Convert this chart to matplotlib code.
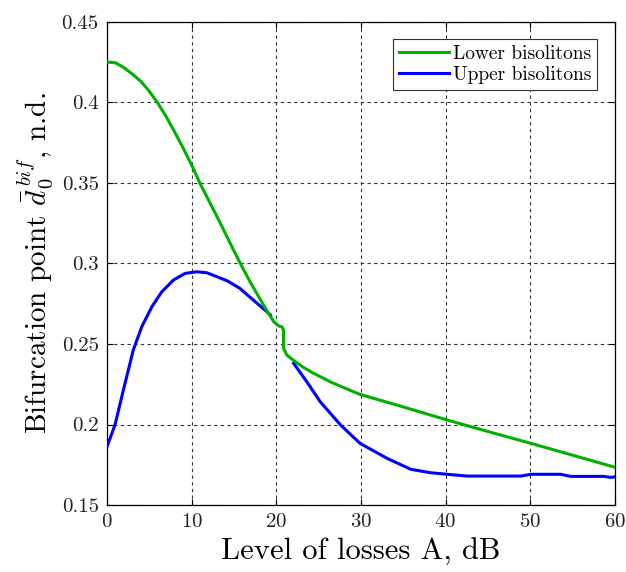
import numpy as np
import matplotlib
matplotlib.use("Agg")
import matplotlib.pyplot as plt

plt.rcParams["font.family"] = "serif"
plt.rcParams["font.serif"] = ["cmr10"]
plt.rcParams["mathtext.fontset"] = "cm"
plt.rcParams["axes.formatter.use_mathtext"] = True

# Lower bisolitons (green)
lower_x = [0, 1, 2, 3, 4, 5, 6, 7, 8, 9, 10, 11, 13.2, 14.95, 15.75, 16.9, 18.5, 19.7,
           20.3, 20.67, 20.86, 20.86, 21.25, 22.05, 23.2, 24.4, 26.4, 27.6, 29.9,
           34.5, 40.2, 45.0, 50.1, 55.0, 60.0]
lower_y = [0.425, 0.4245, 0.4215, 0.4175, 0.413, 0.4068, 0.3995, 0.391, 0.3815, 0.3715,
           0.361, 0.3496, 0.3269, 0.3083, 0.300, 0.2886, 0.2741, 0.2638, 0.2611, 0.2607,
           0.2586, 0.2473, 0.2431, 0.2398, 0.2355, 0.2318, 0.2265, 0.2237, 0.2187,
           0.2117, 0.2028, 0.1957, 0.1883, 0.1810, 0.1735]

# Upper bisolitons (blue), NaN marks the gap around 21 dB
upper_x = [0, 0.95, 1.93, 3.1, 4.1, 5.3, 6.47, 7.85, 9.23, 10.6, 11.8, 14.2, 15.7,
           17.3, 18.9, 19.3, np.nan,
           22.05, 23.6, 25.2, 27.6, 29.9, 33.1, 35.9, 38.2, 40.2, 42.6, 48.9,
           50.1, 53.6, 54.8, 58.7, 59.5, 60.0]
upper_y = [0.1862, 0.200, 0.2214, 0.2462, 0.2607, 0.2731, 0.2824, 0.2897, 0.2938,
           0.2948, 0.2942, 0.2892, 0.2845, 0.2772, 0.270, 0.268, np.nan,
           0.238, 0.2266, 0.2141, 0.1997, 0.1883, 0.179, 0.1722, 0.1701, 0.1691,
           0.168, 0.168, 0.1691, 0.1691, 0.1678, 0.1678, 0.1672, 0.1675]

x_ticks = [0, 10, 20, 30, 40, 50, 60]
y_ticks = [0.15, 0.2, 0.25, 0.3, 0.35, 0.4, 0.45]
y_tick_labels = ["0.15", "0.2", "0.25", "0.3", "0.35", "0.4", "0.45"]

fig = plt.figure(figsize=(6.26, 5.72), dpi=100)
ax = fig.add_axes([0.171, 0.117, 0.811, 0.845])

blue_line, = ax.plot(upper_x, upper_y, color="#0000ff", lw=2.2, label="Upper bisolitons", zorder=3)
green_line, = ax.plot(lower_x, lower_y, color="#00b000", lw=2.2, label="Lower bisolitons", zorder=4)

ax.set_xlim(0, 60)
ax.set_ylim(0.15, 0.45)
ax.set_xticks(x_ticks)
ax.set_yticks(y_ticks)
ax.set_yticklabels(y_tick_labels)
ax.tick_params(direction="in", length=4, width=0.8, labelsize=15,
               top=True, right=True, pad=6, labelcolor="#222222")

ax.grid(True, color="#333333", linestyle=(0, (3, 3)), linewidth=0.8)
for s in ax.spines.values():
    s.set_linewidth(0.9)

ax.set_xlabel("Level of losses A, dB", fontsize=22, labelpad=5)
ax.set_ylabel(r"Bifurcation point $\bar{d}_0^{\,bif}$, n.d.", fontsize=21, labelpad=5)

leg = ax.legend(handles=[green_line, blue_line], loc="upper right", fontsize=14,
                fancybox=False, edgecolor="#333333", framealpha=1,
                borderpad=0.3, handlelength=2.6, handletextpad=0.2,
                borderaxespad=0.9, labelspacing=0.15)
leg.get_frame().set_linewidth(0.8)

fig.savefig("out.png", dpi=100)
